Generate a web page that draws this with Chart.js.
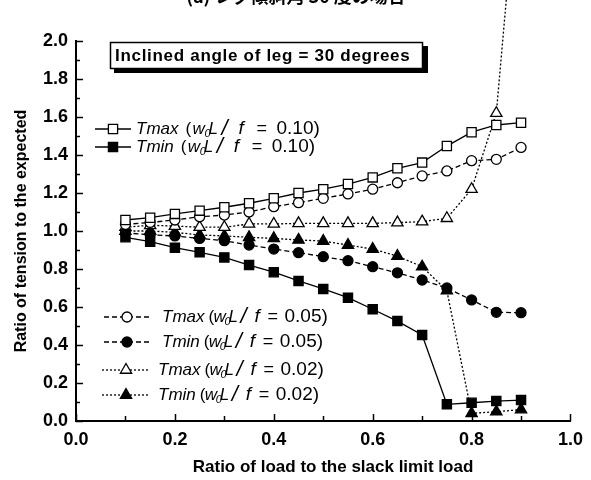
<!DOCTYPE html>
<html><head><meta charset="utf-8">
<script src="https://cdn.jsdelivr.net/npm/chart.js@4/dist/chart.umd.min.js"></script>
<style>html,body{margin:0;padding:0;background:#fff;}canvas{display:block}</style>
</head><body>
<canvas id="c" width="591" height="480"></canvas>
<script>
// ---- data ----
const loadRatio = [0.1,0.15,0.2,0.25,0.3,0.35,0.4,0.45,0.5,0.55,0.6,0.65,0.7,0.75,0.8,0.85,0.9];
const tmax010 = [1.058,1.07,1.09,1.107,1.125,1.146,1.172,1.20,1.22,1.247,1.282,1.33,1.36,1.447,1.52,1.558,1.57];
const tmin010 = [0.967,0.944,0.912,0.888,0.861,0.821,0.783,0.737,0.695,0.649,0.588,0.526,0.453,0.088,0.096,0.105,0.11];
const tmax005 = [1.035,1.045,1.058,1.075,1.084,1.10,1.128,1.149,1.172,1.195,1.22,1.254,1.29,1.316,1.37,1.377,1.44];
const tmin005 = [0.99,0.98,0.974,0.961,0.949,0.926,0.905,0.886,0.865,0.844,0.812,0.78,0.742,0.70,0.637,0.572,0.57];
const tmax002 = [1.02,1.03,1.026,1.02,1.02,1.037,1.037,1.04,1.04,1.04,1.04,1.044,1.049,1.067,1.22,1.62,3.1];
const tmin002 = [1.0,1.0,0.993,0.979,0.974,0.967,0.961,0.953,0.947,0.926,0.905,0.868,0.812,0.686,0.04,0.049,0.06];
const seriesNames = ['Tmax','Tmin','Tmax','Tmin','Tmax','Tmin'];
const seriesRatios = ['0.10','0.10','0.05','0.05','0.02','0.02'];
const xTickValues = [0,0.2,0.4,0.6,0.8,1.0];
const yTickValues = [0,0.2,0.4,0.6,0.8,1.0,1.2,1.4,1.6,1.8,2.0];
const titleText = '(a) レグ傾斜角 30 度の場合';
const boxText = 'Inclined angle of leg = 30 degrees';
const xTitle = 'Ratio of load to the slack limit load';
const yTitle = 'Ratio of tension to the expected';

const pts = arr => loadRatio.map((x,i)=>({x, y: arr[i]}));
const base = {borderColor:'#000', borderWidth:1.3, pointBorderColor:'#000', pointBorderWidth:1.3, tension:0};
const datasets = [
  {...base, data: pts(tmax010), pointStyle:'rect', pointRadius:6.5, pointBackgroundColor:'#fff'},
  {...base, data: pts(tmin010), pointStyle:'rect', pointRadius:6.5, pointBackgroundColor:'#000'},
  {...base, data: pts(tmax005), borderDash:[5,3], pointStyle:'circle', pointRadius:5, pointBackgroundColor:'#fff'},
  {...base, data: pts(tmin005), borderDash:[5,3], pointStyle:'circle', pointRadius:5, pointBackgroundColor:'#000'},
  {...base, data: pts(tmax002), borderDash:[2,2], pointStyle:'triangle', pointRadius:6.5, pointBackgroundColor:'#fff', clip:false},
  {...base, data: pts(tmin002), borderDash:[2,2], pointStyle:'triangle', pointRadius:6.5, pointBackgroundColor:'#000'}
];

const FONT = '"Liberation Sans", Arial, sans-serif';
const wideOffsets = {p:7, w:14, s:26, L:30, sl:43, f:60, eq:78, v:98};
const tightOffsets = {p:4, w:9, s:20, L:24, sl:36, f:50, eq:63, v:80};
const legendItems = [
  {x1:95,x2:131,mx:113,y:129,tx:136,o:wideOffsets},
  {x1:95,x2:131,mx:113,y:147,tx:136,o:wideOffsets},
  {x1:104,x2:152,mx:127,y:317,tx:162,o:tightOffsets},
  {x1:104,x2:152,mx:127,y:342,tx:162,o:tightOffsets},
  {x1:102,x2:149,mx:126,y:370,tx:158,o:tightOffsets},
  {x1:102,x2:149,mx:126,y:395,tx:158,o:tightOffsets}
];

const decor = {
  id:'decor',
  afterDraw(chart){
    const ctx = chart.ctx, xs = chart.scales.x, ys = chart.scales.y, ca = chart.chartArea;
    ctx.save();
    // inward ticks
    ctx.strokeStyle = '#000'; ctx.lineWidth = 1.5;
    for (let i=0;i<=20;i++){
      const v = i/10, y = Math.round(ys.getPixelForValue(v))+0.5;
      const len = (i%2===0)?7:4;
      ctx.beginPath(); ctx.moveTo(ca.left, y); ctx.lineTo(ca.left+len, y); ctx.stroke();
    }
    for (let i=0;i<=10;i++){
      const v = i/10, x = Math.round(xs.getPixelForValue(v))+0.5;
      const len = (i%2===0)?7:5;
      ctx.beginPath(); ctx.moveTo(x, ca.bottom); ctx.lineTo(x, ca.bottom-len); ctx.stroke();
    }
    // titles
    ctx.fillStyle = '#000';
    ctx.font = 'bold 17px ' + FONT;
    ctx.textAlign = 'center'; ctx.textBaseline = 'middle';
    ctx.fillText(xTitle, 333, 467);
    ctx.save();
    ctx.font = 'bold 16px ' + FONT;
    ctx.translate(22, (ca.top+ca.bottom)/2);
    ctx.rotate(-Math.PI/2);
    ctx.fillText(yTitle, 0, 0);
    ctx.restore();
    // cut-off top title
    ctx.font = 'bold 18px "Noto Sans CJK JP", sans-serif';
    ctx.textBaseline = 'alphabetic';
    ctx.fillText(titleText, 296, 3);
    // boxed note
    ctx.fillStyle = '#000';
    ctx.fillRect(114, 46, 314, 27);
    ctx.fillStyle = '#fff';
    ctx.fillRect(110, 42, 313, 27);
    ctx.strokeStyle = '#000'; ctx.lineWidth = 1.5;
    ctx.strokeRect(110.5, 42.5, 312, 26);
    ctx.fillStyle = '#000';
    ctx.font = 'bold 17px ' + FONT;
    ctx.letterSpacing = '0.7px';
    ctx.textAlign = 'left'; ctx.textBaseline = 'middle';
    ctx.fillText(boxText, 115, 56);
    ctx.letterSpacing = '0px';
    // legends
    legendItems.forEach((it, i) => {
      const ds = chart.data.datasets[i];
      ctx.save();
      ctx.strokeStyle = '#000'; ctx.lineWidth = 1.3;
      ctx.setLineDash(ds.borderDash || []);
      ctx.beginPath(); ctx.moveTo(it.x1, it.y); ctx.lineTo(it.x2, it.y); ctx.stroke();
      ctx.setLineDash([]);
      ctx.fillStyle = ds.pointBackgroundColor; ctx.strokeStyle = '#000'; ctx.lineWidth = 1.3;
      Chart.helpers.drawPoint(ctx, {pointStyle: ds.pointStyle, radius: ds.pointRadius, rotation:0, borderWidth:1.3}, it.mx, it.y);
      ctx.restore();
      // text
      ctx.fillStyle = '#000'; ctx.textAlign = 'left'; ctx.textBaseline = 'middle';
      ctx.font = 'italic 17px ' + FONT;
      ctx.fillText(seriesNames[i], it.tx, it.y);
      const e = it.tx + ctx.measureText(seriesNames[i]).width;
      const o = it.o;
      const segs = [
        {t:'(', f:'17px '+FONT, o:o.p, dy:0},
        {t:'w', f:'italic 17px '+FONT, o:o.w, dy:0},
        {t:'0', f:'italic 11px '+FONT, o:o.s, dy:5},
        {t:'L', f:'italic 17px '+FONT, o:o.L, dy:0},
        {t:'/', f:'italic 22px '+FONT, o:o.sl, dy:0},
        {t:'f', f:'italic 19px '+FONT, o:o.f, dy:0},
        {t:'=', f:'18px '+FONT, o:o.eq, dy:0},
        {t:seriesRatios[i] + ')', f:'19px '+FONT, o:o.v, dy:0}
      ];
      segs.forEach(s => { ctx.font = s.f; ctx.fillText(s.t, e + s.o, it.y + s.dy); });
    });
    ctx.restore();
  }
};

new Chart(document.getElementById('c'), {
  type:'line',
  data:{datasets},
  options:{
    responsive:false, animation:false, devicePixelRatio:1,
    layout:{padding:{top:41,right:13,left:0,bottom:0}},
    plugins:{legend:{display:false}, tooltip:{enabled:false}},
    scales:{
      x:{type:'linear', min:0, max:1,
        afterFit(s){ s.height = 59; },
        afterBuildTicks(s){ s.ticks = xTickValues.map(v=>({value:v})); },
        grid:{display:true, drawOnChartArea:false, drawTicks:false},
        border:{display:true, color:'#000', width:2},
        ticks:{padding:8, color:'#000', font:{family:FONT, size:18, weight:'bold'}, callback:v=>v.toFixed(1), maxRotation:0, autoSkip:false}
      },
      y:{type:'linear', min:0, max:2,
        afterFit(s){ s.width = 76; },
        afterBuildTicks(s){ s.ticks = yTickValues.map(v=>({value:v})); },
        grid:{display:true, drawOnChartArea:false, drawTicks:false},
        border:{display:true, color:'#000', width:2},
        ticks:{padding:8, color:'#000', font:{family:FONT, size:18, weight:'bold'}, callback:v=>v.toFixed(1), autoSkip:false}
      }
    }
  },
  plugins:[decor]
});
</script>
</body></html>
